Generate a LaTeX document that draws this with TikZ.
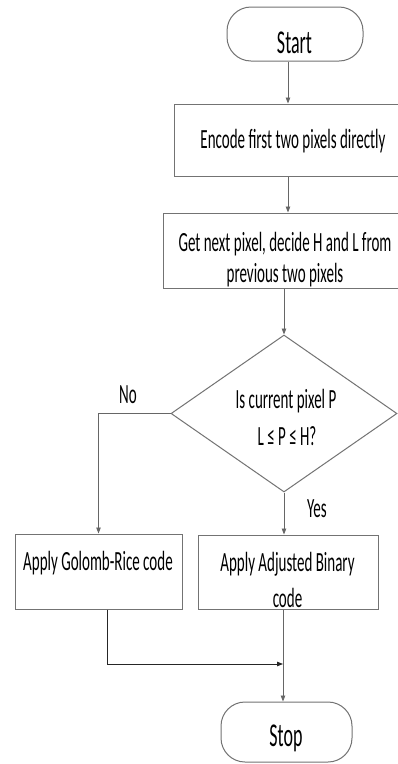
\documentclass[tikz,border=0pt]{standalone}
\usepackage{fontspec}
\usepackage{graphicx}
\setmainfont{Carlito}
\usetikzlibrary{arrows.meta,shapes.geometric}
\newcommand{\vst}[1]{\scalebox{1}[1.85]{#1}}
\definecolor{boxln}{gray}{0.45}
\definecolor{conln}{gray}{0.40}
\tikzset{
  procbox/.style={draw=boxln, line width=1pt, rectangle, inner sep=0pt},
  termbox/.style={draw=boxln, line width=1pt, rectangle, rounded corners=24pt, inner sep=0pt},
  decbox/.style={draw=boxln, line width=1pt, diamond, inner sep=0pt},
  txt/.style={anchor=base, inner sep=0pt, font=\fontsize{15}{18}\selectfont},
  ttxt/.style={anchor=base, inner sep=0pt, font=\fontsize{18}{21}\selectfont},
  arr/.style={draw=conln, line width=0.9pt, -{Triangle[length=6pt,width=4.5pt]}},
}
\begin{document}
\begin{tikzpicture}[x=1pt,y=-1pt]
\useasboundingbox (0,0) rectangle (398,764);
\clip (0,0) rectangle (398,764);
\fill[white] (0,0) rectangle (398,764);

% shapes
\node[termbox, minimum width=136pt, minimum height=54pt] (start) at (295,34) {};
\node[procbox, minimum width=228pt, minimum height=72pt] (box1) at (288,140) {};
\node[procbox, minimum width=239pt, minimum height=75pt] (box2) at (282.5,250.5) {};
\node[decbox, minimum width=226pt, minimum height=157pt] (dec) at (284,413.5) {};
\node[procbox, minimum width=167pt, minimum height=75pt] (box3) at (98.5,571.5) {};
\node[procbox, minimum width=180pt, minimum height=74pt] (box4) at (288,572) {};
\node[termbox, minimum width=131pt, minimum height=60pt] (stop) at (286.5,732) {};

% texts
\node[ttxt] (tstart) at (294.5,53) {\vst{Start}};
\node[txt] (t1) at (293,148) {\vst{Encode first two pixels directly}};
\node[txt] (t2a) at (285,251) {\vst{Get next pixel, decide H and L from}};
\node[txt] (t2b) at (285,282) {\vst{previous two pixels}};
\node[txt] (t3a) at (286,408) {\vst{Is current pixel P}};
\node[txt] (t3b) at (287,445) {\vst{L \char"2264{} P \char"2264{} H?}};
\node[txt] (t4) at (98,570) {\vst{Apply Golomb-Rice code}};
\node[txt] (t5a) at (287.5,571) {\vst{Apply Adjusted Binary}};
\node[txt] (t5b) at (287.5,607) {\vst{code}};
\node[ttxt] (tstop) at (286,746) {\vst{Stop}};
\node[txt] (no) at (128,403) {\vst{No}};
\node[txt] (yes) at (317,517) {\vst{Yes}};

% connectors
\coordinate (j) at (283,664);
\draw[arr] (box1.north |- start.south) -- (box1.north);
\draw[arr] (box1.south) -- (box1.south |- box2.north);
\draw[arr] (dec.north |- box2.south) -- (dec.north);
\draw[arr] (dec.west) -| (box3.north);
\draw[arr] (dec.south) -- (dec.south |- box4.north);
\draw[arr, draw=black!85] ([xshift=8.5pt]box3.south) |- (j);
\draw[arr] (box4.south -| j) -- (j |- stop.north);
\end{tikzpicture}
\end{document}
